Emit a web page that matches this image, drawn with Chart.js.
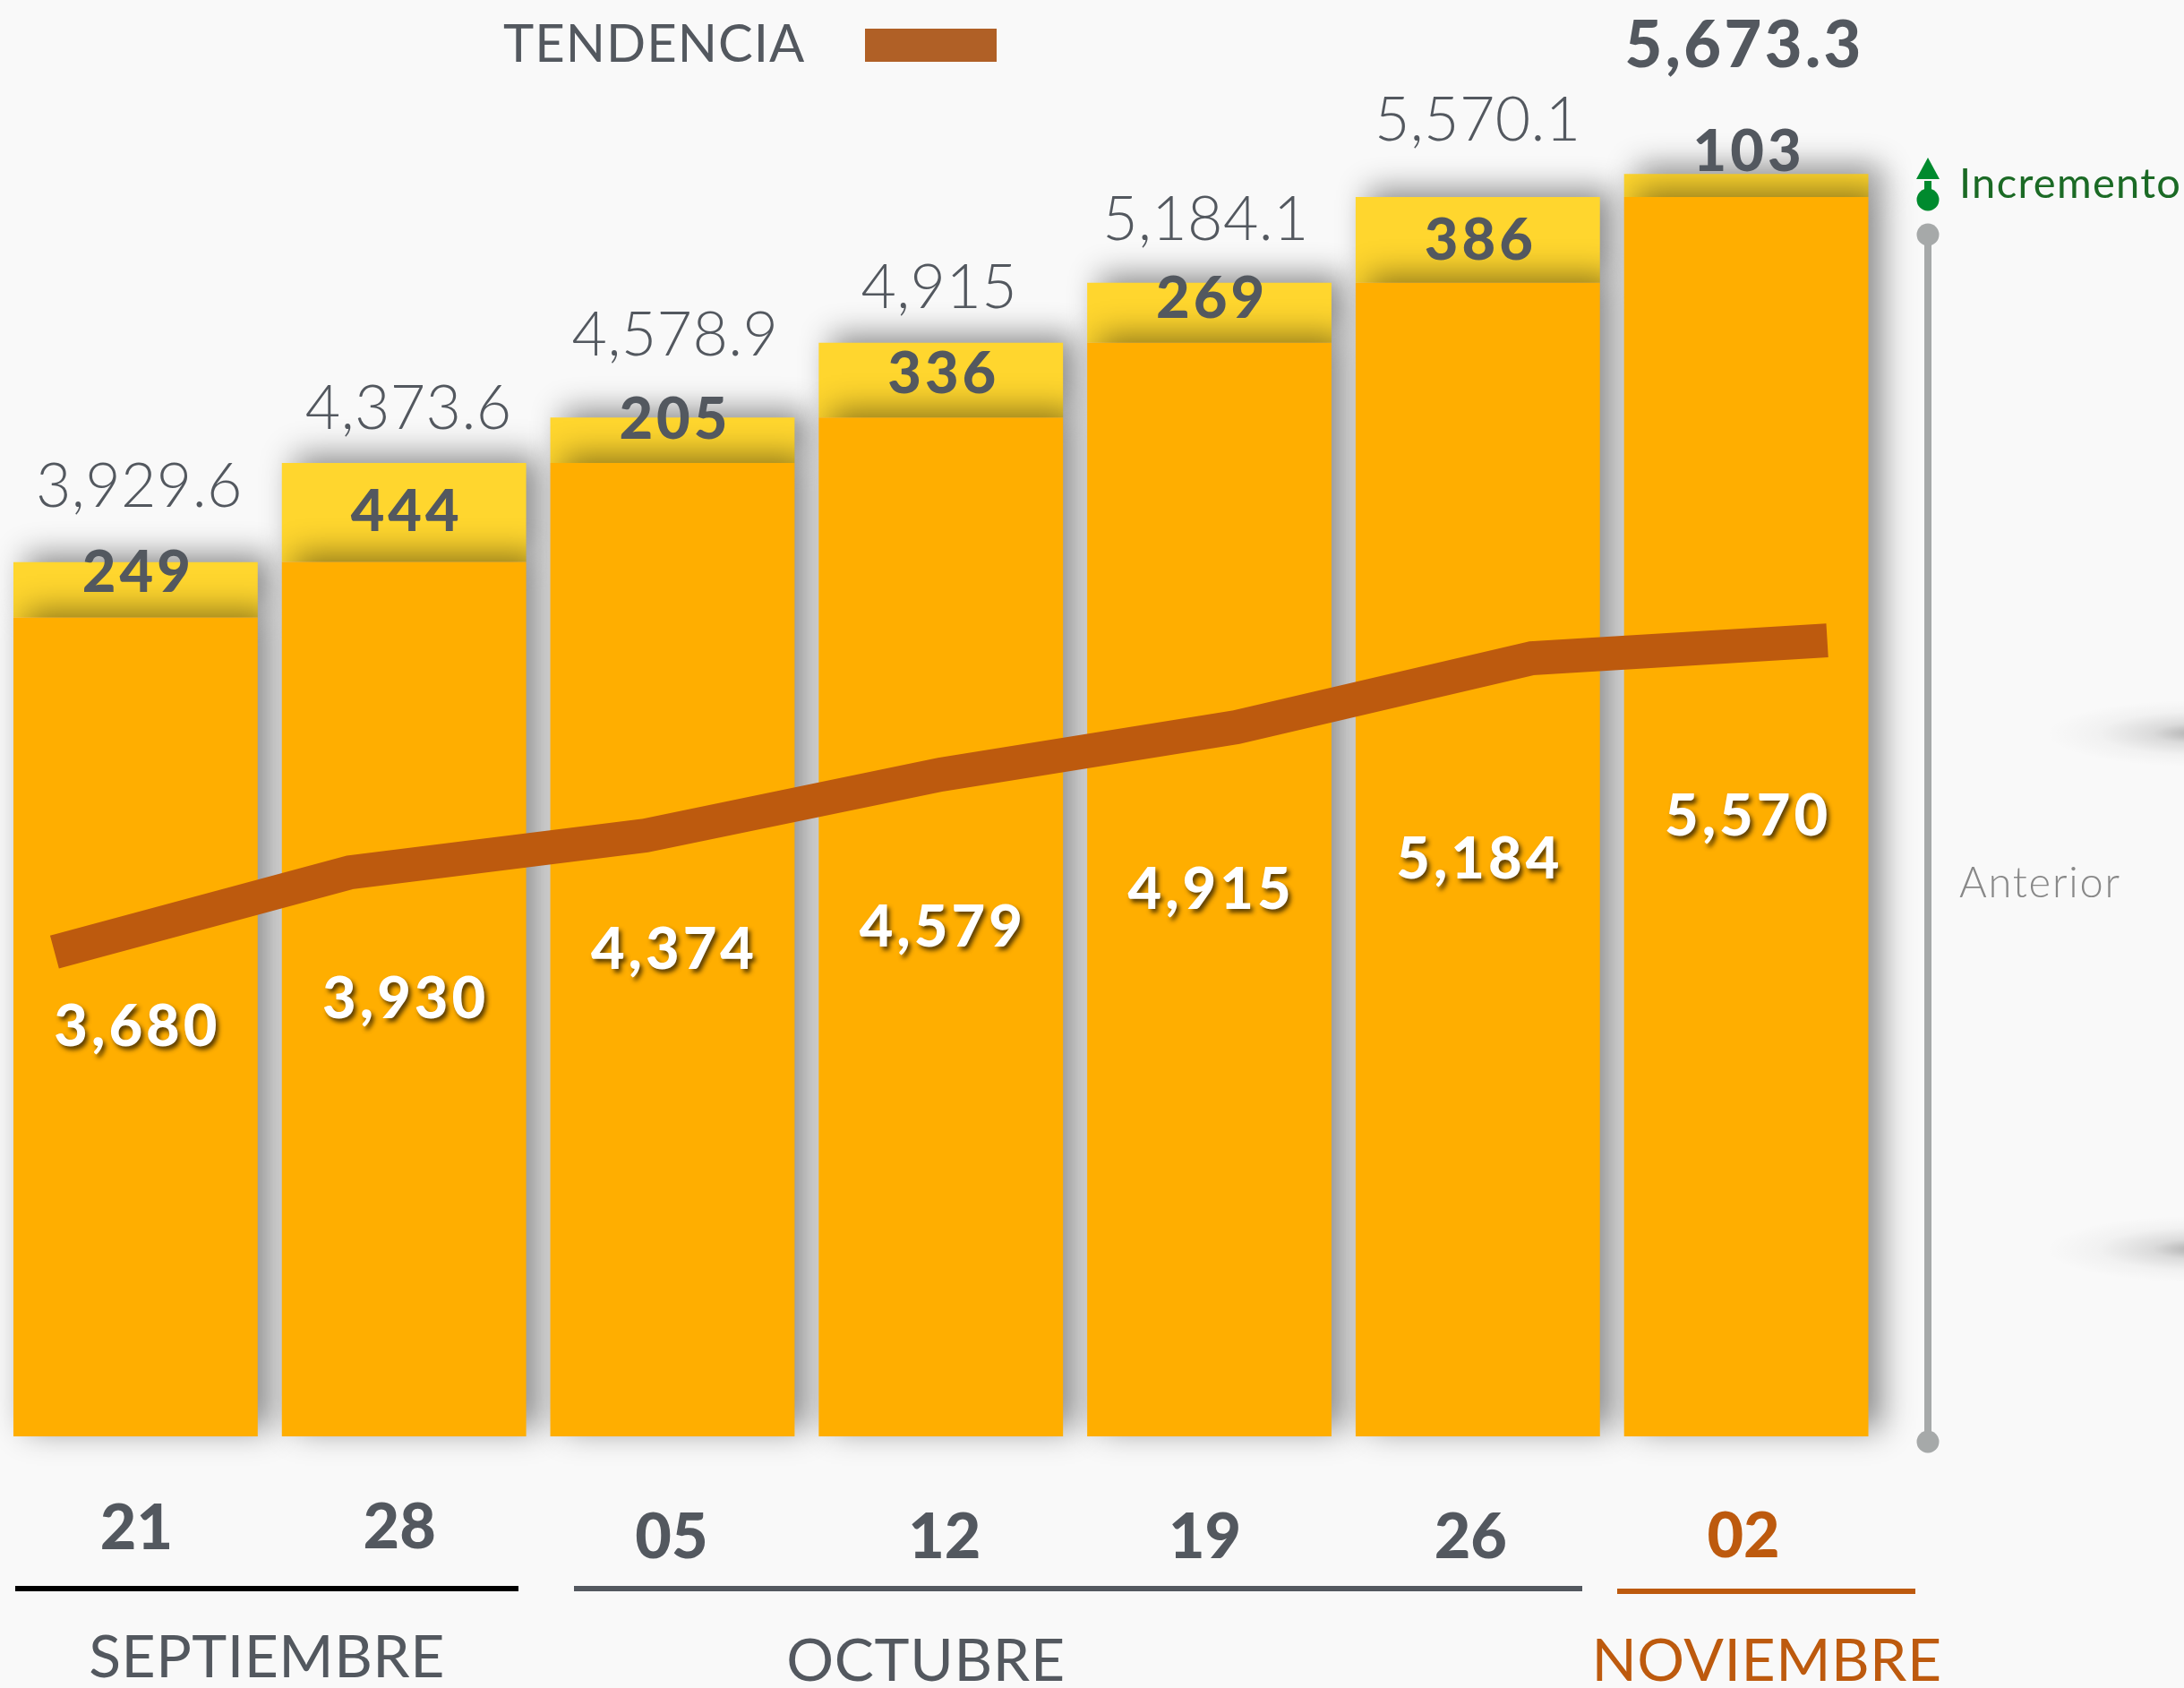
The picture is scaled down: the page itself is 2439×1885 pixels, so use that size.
<!DOCTYPE html>
<html>
<head>
<meta charset="utf-8">
<style>html,body{margin:0;padding:0;background:#f9f9f9;overflow:hidden}canvas{display:block}</style>
<script src="https://cdn.jsdelivr.net/npm/chart.js@4"></script>
</head>
<body>
<canvas id="c" width="2439" height="1885"></canvas>
<script>
const categories = ['21','28','05','12','19','26','02'];
const previousValues = [3680,3930,4374,4579,4915,5184,5570];
const incrementValues = [249,444,205,336,269,386,103];
const trendValues = [2177,2535,2700,2974,3187,3497,3577];
const totalLabels = ['3,929.6','4,373.6','4,578.9','4,915','5,184.1','5,570.1','5,673.3'];
const previousLabels = ['3,680','3,930','4,374','4,579','4,915','5,184','5,570'];
const incrementLabels = ['249','444','205','336','269','386','103'];
const months = [
  {name:'SEPTIEMBRE',x:298,base:1873,x0:17,x1:579,ly:1774,line:'#000000',text:'#53585F',sp:0.5},
  {name:'OCTUBRE',x:1034,base:1877,x0:641,x1:1767,ly:1774,line:'#53585F',text:'#53585F',sp:0.7},
  {name:'NOVIEMBRE',x:1973,base:1877,x0:1806,x1:2139,ly:1777,line:'#BD5A0E',text:'#BD5A0E',sp:0.5}
];
const TEXT='#53585F', BROWN='#BD5A0E';
const totalDx=[4,5,3,-2,-4,0,-2], totalDy=[-62,-38,-69,-39,-48,-63,-119];
const incDy=[33,76,24,56,39,70,-3];
const prevDy=[478,510,565,591,632,665,713];
const tickDx=[1,-5,-1,4,-5,-8,-3], tickDy=[-11,-12,-1,-1,-1,-1,-2];

function text(ctx,s,x,y,font,color,align,spacing){
  ctx.font=font; ctx.fillStyle=color; ctx.textAlign=align||'center'; ctx.textBaseline='alphabetic';
  ctx.letterSpacing=(spacing||0)+'px';
  ctx.fillText(s,x,y);
  ctx.letterSpacing='0px';
}
const decor={
  id:'decor',
  beforeDraw(chart){
    const c=chart.ctx;
    c.save();
    c.fillStyle='#f9f9f9'; c.fillRect(0,0,chart.width,chart.height);
    [819,1395].forEach(y=>{
      c.save(); c.translate(2455,y); c.scale(1,0.22);
      const g=c.createRadialGradient(0,0,0,0,0,170);
      g.addColorStop(0,'rgba(0,0,0,0.30)'); g.addColorStop(0.3,'rgba(0,0,0,0.12)'); g.addColorStop(0.65,'rgba(0,0,0,0.03)'); g.addColorStop(1,'rgba(0,0,0,0)');
      c.fillStyle=g; c.fillRect(-170,-170,340,340); c.restore();
    });
    // shift tick labels on the axis' own label items
    const items=chart.scales.x.getLabelItems();
    items.forEach((it,i)=>{ if(!it._moved){ it.options.translation[0]+=tickDx[i]; it.options.translation[1]+=tickDy[i]; it._moved=true; } });
    c.restore();
  },
  beforeDatasetDraw(chart,args){
    if(args.index<2){
      const c=chart.ctx; c.save();
      c.shadowColor='rgba(0,0,0,0.45)'; c.shadowBlur=34; c.shadowOffsetX=14; c.shadowOffsetY=-8;
    }
  },
  afterDatasetDraw(chart,args){ if(args.index<2) chart.ctx.restore(); },
  afterDatasetsDraw(chart){
    const c=chart.ctx, xs=chart.scales.x, ys=chart.scales.y;
    c.save();
    categories.forEach((_,i)=>{
      const x=xs.getPixelForValue(i), py=ys.getPixelForValue(previousValues[i]), ty=ys.getPixelForValue(previousValues[i]+incrementValues[i]);
      const last=i===categories.length-1;
      text(c,totalLabels[i],x+totalDx[i],ty+totalDy[i],(last?'900 72px':'300 68px')+' Lato',TEXT,'center',last?3.5:0.4);
      text(c,incrementLabels[i],x+3,ty+incDy[i],'900 65px Lato',TEXT,'center',4);
      c.save();
      c.shadowColor='rgba(60,40,0,0.85)'; c.shadowBlur=5; c.shadowOffsetX=3; c.shadowOffsetY=4;
      text(c,previousLabels[i],x+2,py+prevDy[i],'900 65px Lato','#ffffff','center',4);
      c.restore();
    });
    // legend
    text(c,'TENDENCIA',562,69,'400 58px Lato',TEXT,'left',1);
    c.fillStyle='#B06026'; c.fillRect(966,32,147,37);
    // month rules and names
    months.forEach(m=>{
      c.fillStyle=m.line; c.fillRect(m.x0,m.ly-3,m.x1-m.x0,6);
      text(c,m.name,m.x,m.base,'400 66px Lato',m.text,'center',m.sp);
    });
    // increment marker
    c.fillStyle='#008A2E';
    c.beginPath(); c.moveTo(2153,176); c.lineTo(2166,200); c.lineTo(2140,200); c.closePath(); c.fill();
    c.fillRect(2149,202,8,12);
    c.beginPath(); c.arc(2153,223,12.5,0,Math.PI*2); c.fill();
    text(c,'Incremento',2188,221,'400 47px Lato','#1B6A25','left',1.3);
    // previous range marker
    c.fillStyle='#A6A9A9';
    c.fillRect(2149,262,8,1348);
    c.beginPath(); c.arc(2153,262,12.5,0,Math.PI*2); c.fill();
    c.beginPath(); c.arc(2153,1610,12.5,0,Math.PI*2); c.fill();
    text(c,'Anterior',2188,1002,'300 47px Lato','#888888','left',1.8);
    c.restore();
  }
};
new Chart(document.getElementById('c'),{
  data:{
    labels:categories,
    datasets:[
      {type:'bar',label:'Anterior',data:previousValues,backgroundColor:'#FFAE00',order:1,clip:false,stack:'a',grouped:false,xAxisID:'x',yAxisID:'y',categoryPercentage:0.91,barPercentage:1},
      {type:'bar',label:'Incremento',data:incrementValues,backgroundColor:'#FFD62E',order:2,clip:false,stack:'a',grouped:false,xAxisID:'x',yAxisID:'y',categoryPercentage:0.91,barPercentage:1},
      {type:'line',label:'TENDENCIA',data:trendValues.map((v,i)=>({x:i,y:v})),borderColor:BROWN,borderWidth:38,pointRadius:0,tension:0,borderJoinStyle:'miter',borderCapStyle:'butt',fill:false,order:0,clip:false,xAxisID:'xLine',yAxisID:'y'}
    ]
  },
  options:{
    responsive:false,
    animation:false,
    layout:{padding:{left:1.5,right:339,top:0,bottom:0}},
    plugins:{legend:{display:false},tooltip:{enabled:false}},
    scales:{
      y:{stacked:true,min:0,max:6455,display:false},
      xLine:{type:'linear',min:-0.18,max:6.18,display:false},
      x:{type:'category',stacked:true,position:'bottom',
        grid:{display:false},border:{display:false},
        ticks:{autoSkip:false,maxRotation:0,padding:64,
          color:c=>c.index===categories.length-1?BROWN:TEXT,
          font:{family:'Lato',weight:'900',size:70}},
        afterFit(s){s.height=281;}
      }
    }
  },
  plugins:[decor]
});
</script>
</body>
</html>
